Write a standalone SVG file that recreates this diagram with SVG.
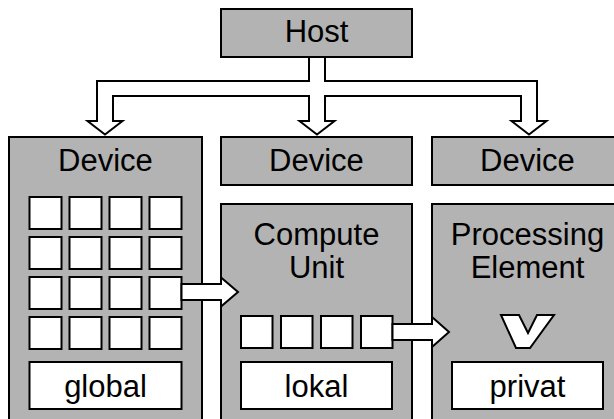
<svg xmlns="http://www.w3.org/2000/svg" width="614" height="419" viewBox="0 0 614 419">
  <style>
    .box { fill: #b3b3b3; stroke: #000; stroke-width: 2; }
    .cell { fill: #fff; stroke: #000; stroke-width: 2; }
    .arrow { fill: #fff; stroke: #000; stroke-width: 2; stroke-linejoin: miter; }
    .label { font-family: "Liberation Sans", Arial, sans-serif; font-size: 31px; fill: #000; text-anchor: middle; }
  </style>
  <rect width="614" height="419" fill="#fff"/>

  <!-- Host -->
  <g id="host">
    <rect class="box" x="221" y="9" width="191" height="48"/>
    <text class="label" x="316.5" y="42">Host</text>
  </g>

  <!-- Device (left, with global memory) -->
  <g id="device-global">
    <rect class="box" x="9" y="137" width="193" height="300"/>
    <text class="label" x="105.5" y="171">Device</text>
    <g id="work-items-grid">
      <rect class="cell" x="29.5" y="197" width="32" height="32"/>
      <rect class="cell" x="69.5" y="197" width="32" height="32"/>
      <rect class="cell" x="109.5" y="197" width="32" height="32"/>
      <rect class="cell" x="149.5" y="197" width="32" height="32"/>
      <rect class="cell" x="29.5" y="237" width="32" height="32"/>
      <rect class="cell" x="69.5" y="237" width="32" height="32"/>
      <rect class="cell" x="109.5" y="237" width="32" height="32"/>
      <rect class="cell" x="149.5" y="237" width="32" height="32"/>
      <rect class="cell" x="29.5" y="277" width="32" height="32"/>
      <rect class="cell" x="69.5" y="277" width="32" height="32"/>
      <rect class="cell" x="109.5" y="277" width="32" height="32"/>
      <rect class="cell" x="149.5" y="277" width="32" height="32"/>
      <rect class="cell" x="29.5" y="317" width="32" height="32"/>
      <rect class="cell" x="69.5" y="317" width="32" height="32"/>
      <rect class="cell" x="109.5" y="317" width="32" height="32"/>
      <rect class="cell" x="149.5" y="317" width="32" height="32"/>
    </g>
    <rect class="cell" x="29.5" y="362" width="152" height="47"/>
    <text class="label" x="105.5" y="397">global</text>
  </g>

  <!-- Device (middle) -->
  <g id="device-middle">
    <rect class="box" x="221" y="137" width="191" height="48"/>
    <text class="label" x="316.5" y="171">Device</text>
  </g>

  <!-- Device (right) -->
  <g id="device-right">
    <rect class="box" x="432" y="137" width="200" height="48"/>
    <text class="label" x="527.5" y="171">Device</text>
  </g>

  <!-- Compute Unit with local memory -->
  <g id="compute-unit">
    <rect class="box" x="221" y="204" width="191" height="240"/>
    <text class="label" x="316.5" y="245">Compute</text>
    <text class="label" x="316.5" y="278">Unit</text>
    <rect class="cell" x="241" y="316" width="31.5" height="32"/>
    <rect class="cell" x="281" y="316" width="31.5" height="32"/>
    <rect class="cell" x="321" y="316" width="31.5" height="32"/>
    <rect class="cell" x="361" y="316" width="31.5" height="32"/>
    <rect class="cell" x="241" y="362" width="151" height="47"/>
    <text class="label" x="316.5" y="397">lokal</text>
  </g>

  <!-- Processing Element with private memory -->
  <g id="processing-element">
    <rect class="box" x="432" y="204" width="200" height="240"/>
    <text class="label" x="527.5" y="245">Processing</text>
    <text class="label" x="527.5" y="278">Element</text>
    <polygon class="cell" points="501,315 519,315 528,333 537,315 554,315 530,348 516,348"/>
    <rect class="cell" x="452" y="362" width="151" height="47"/>
    <text class="label" x="527.5" y="397">privat</text>
  </g>

  <!-- Connectors -->
  <g id="connectors">
    <polygon class="arrow" points="309,57 309,81 97,81 97,121 87.5,121 105,134.5 122.5,121 113,121 113,96 309,96 309,121 299.5,121 317,134.5 334.5,121 325,121 325,96 521,96 521,121 511.5,121 529,134.5 546.5,121 537,121 537,81 325,81 325,57"/>
    <polygon class="arrow" points="181.5,284 221,284 221,277.5 238,292 221,306.5 221,300 181.5,300"/>
    <polygon class="arrow" points="392.5,324 432,324 432,317 449,332 432,347 432,340 392.5,340"/>
  </g>
</svg>
